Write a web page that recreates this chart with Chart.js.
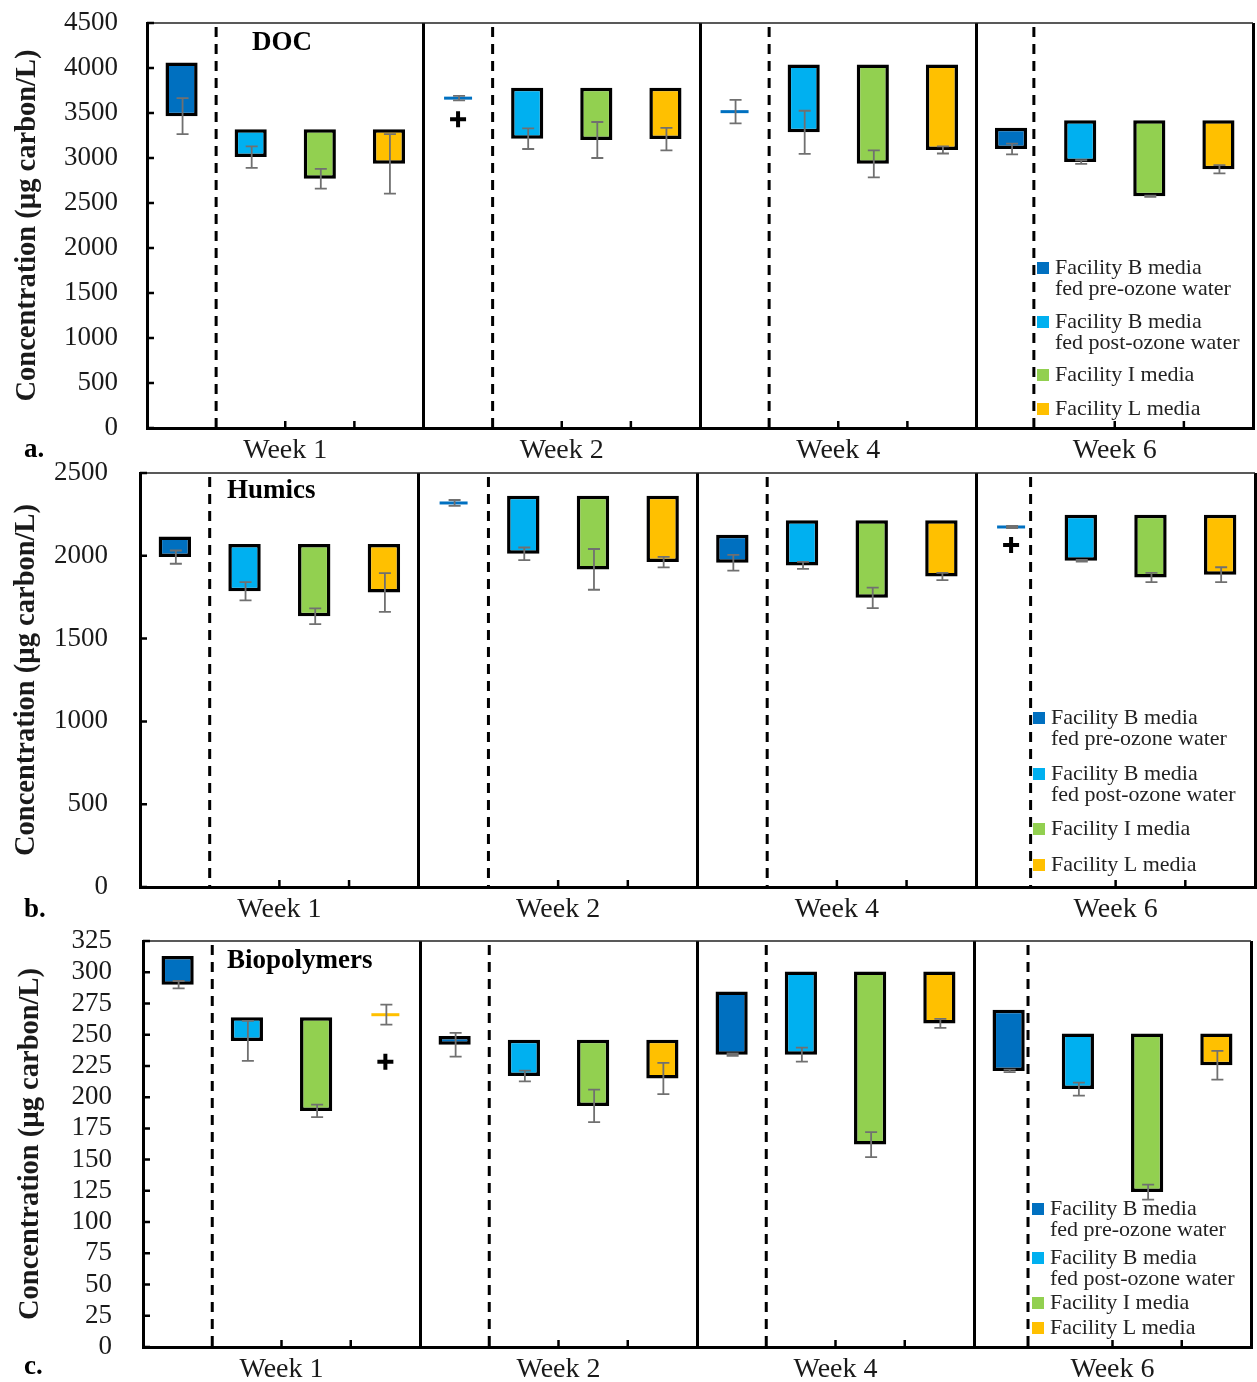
<!DOCTYPE html>
<html>
<head>
<meta charset="utf-8">
<script src="https://cdn.jsdelivr.net/npm/chart.js@4.4.1/dist/chart.umd.min.js"></script>
<style>
  html, body { margin: 0; padding: 0; background: #fff; }
  #wrap { position: relative; width: 1257px; height: 1382px; }
  #wrap canvas { position: absolute; left: 0; top: 0; }
</style>
</head>
<body>
<div id="wrap">
  <canvas id="docChart" width="1257" height="1382"></canvas>
  <canvas id="humicsChart" width="1257" height="1382"></canvas>
  <canvas id="bioChart" width="1257" height="1382"></canvas>
</div>
<script>
// ---- categories ----
const weeks = ['Week 1', 'Week 2', 'Week 4', 'Week 6'];
const mediaShort = ['B pre', 'B post', 'I', 'L'];
const mediaLabels = [
  ['Facility B media', 'fed pre-ozone water'],
  ['Facility B media', 'fed post-ozone water'],
  ['Facility I media'],
  ['Facility L media']
];
const mediaColors = ['#0070C0', '#00B0F0', '#92D050', '#FFC000'];

// ---- values (µg carbon/L) ----
// Slot order inside every week: B pre, B post, I, L.
// Influent = top of the floating bar, effluent = bottom (± error).
// A null influent means the effluent exceeded the influent: drawn as a single line.
const docInfluent = [4060, 3320, 3320, 3320,  null, 3780, 3780, 3780,  null, 4040, 4040, 4040,  3335, 3420, 3420, 3420];
const docEffluent = [3465, 3010, 2770, 2935,  3665, 3215, 3200, 3210,  3515, 3285, 2935, 3090,  3100, 2955, 2575, 2875];
const docError    = [ 200,  120,  110,  330,    25,  115,  200,  125,   130,  240,  150,   40,    60,   20,    8,   45];
const docPlus     = [4];

const humInfluent = [2117, 2071, 2071, 2071,  null, 2363, 2363, 2363,  2127, 2214, 2214, 2214,  null, 2248, 2248, 2248];
const humEffluent = [1992, 1786, 1635, 1778,  2319, 2012, 1918, 1962,  1958, 1942, 1746, 1875,  2174, 1970, 1869, 1886];
const humError    = [  40,   55,   48,  117,    18,   38,  123,   32,    48,   21,   62,   22,     6,    5,   28,   45];
const humPlus     = [12];

const bioInfluent = [313, 264, 264, null,  249, 246, 246, 246,  284.5, 300.5, 300.5, 300.5,  270, 251, 251, 251];
const bioEffluent = [290, 245, 189, 266,   242, 217, 193, 215,  234,   234,   162,   259,    221, 206.5, 124, 225.5];
const bioError    = [  3,  16,   5,   8,   9.5, 4.3,  13, 12.5,   1,   5.6,    10,   3.6,      1, 5.2,   6,  11.5];
const bioPlus     = [3];

// ---- shared styling ----
Chart.defaults.font.family = "'Liberation Serif', 'Times New Roman', serif";
Chart.defaults.color = '#1a1a1a';
const CANVAS_W = 1257, CANVAS_H = 1382, WEEK_AXIS_H = 30;
const slotLabels = weeks.flatMap(w => mediaShort.map(m => w + ' ' + m));

const panels = [
  { canvas: 'docChart', title: 'DOC', letter: 'a.',
    influent: docInfluent, effluent: docEffluent, error: docError, plus: docPlus,
    yMax: 4500, yStep: 500,
    area: { left: 147, right: 1253, top: 23, bottom: 428 },
    titleOffset: [105, 27], letterPos: [24, 457], dashAt: [0.5, 4.5, 8.5, 12.33],
    legendX: 1037, legendRows: [268, 322, 375, 409], plusDrop: 21,
    yTitlePad: 12, yTickPad: 29 },
  { canvas: 'humicsChart', title: 'Humics', letter: 'b.',
    influent: humInfluent, effluent: humEffluent, error: humError, plus: humPlus,
    yMax: 2500, yStep: 500,
    area: { left: 140, right: 1255, top: 473, bottom: 887 },
    titleOffset: [87, 25], letterPos: [24, 917], dashAt: [0.5, 4.5, 8.5, 12.28],
    legendX: 1033, legendRows: [718, 774, 829, 865], plusDrop: 18,
    yTitlePad: 11, yTickPad: 32 },
  { canvas: 'bioChart', title: 'Biopolymers', letter: 'c.',
    influent: bioInfluent, effluent: bioEffluent, error: bioError, plus: bioPlus,
    yMax: 325, yStep: 25,
    area: { left: 143, right: 1251, top: 941, bottom: 1347 },
    titleOffset: [84, 27], letterPos: [24, 1374], dashAt: [0.5, 4.5, 8.5, 12.28],
    legendX: 1032, legendRows: [1209, 1258, 1303, 1328], plusDrop: 47,
    yTitlePad: 15, yTickPad: 31 }
];

// Dashed media separators, error bars, inner ticks, titles and the in-plot legend
function panelDecor(p) {
  return {
    id: 'panelDecor',
    beforeDatasetsDraw(chart) {
      const { ctx, chartArea: a, scales: { x } } = chart;
      ctx.save();
      ctx.strokeStyle = '#000';
      ctx.lineWidth = 3;
      ctx.setLineDash([10, 7]);
      p.dashAt.forEach(v => {
        const px = x.getPixelForValue(v);
        ctx.beginPath();
        ctx.moveTo(px, a.top + 4);
        ctx.lineTo(px, a.bottom);
        ctx.stroke();
      });
      ctx.restore();
    },
    afterDatasetsDraw(chart) {
      const { ctx, chartArea: a, scales: { x, y } } = chart;
      ctx.save();

      // error bars around each effluent value
      ctx.strokeStyle = '#707070';
      ctx.lineWidth = 1.8;
      p.effluent.forEach((v, i) => {
        const e = p.error[i];
        if (!e) return;
        const cx = x.getPixelForValue(i) + 1;
        const y1 = y.getPixelForValue(v + e);
        const y2 = y.getPixelForValue(v - e);
        ctx.beginPath();
        ctx.moveTo(cx, y1); ctx.lineTo(cx, y2);
        ctx.moveTo(cx - 6, y1); ctx.lineTo(cx + 6, y1);
        ctx.moveTo(cx - 6, y2); ctx.lineTo(cx + 6, y2);
        ctx.stroke();
      });

      // "+" under the slots where concentration increased
      ctx.strokeStyle = '#000';
      ctx.lineWidth = 4;
      p.plus.forEach(i => {
        const cx = x.getPixelForValue(i);
        const cy = y.getPixelForValue(p.effluent[i]) + p.plusDrop;
        ctx.beginPath();
        ctx.moveTo(cx - 8, cy); ctx.lineTo(cx + 8, cy);
        ctx.moveTo(cx, cy - 8); ctx.lineTo(cx, cy + 8);
        ctx.stroke();
      });

      // thin top frame
      ctx.strokeStyle = '#222';
      ctx.lineWidth = 1.5;
      ctx.beginPath();
      ctx.moveTo(a.left, a.top);
      ctx.lineTo(a.right, a.top);
      ctx.stroke();

      // inward ticks: y values and slot boundaries
      ctx.strokeStyle = '#000';
      ctx.lineWidth = 2.5;
      ctx.beginPath();
      y.ticks.forEach(t => {
        const py = y.getPixelForValue(t.value);
        ctx.moveTo(a.left, py); ctx.lineTo(a.left + 7, py);
      });
      for (let g = 0; g < weeks.length; g++) {
        [1.5, 2.5].forEach(o => {
          const px = x.getPixelForValue(g * 4 + o);
          ctx.moveTo(px, a.bottom); ctx.lineTo(px, a.bottom - 7);
        });
      }
      ctx.stroke();

      // panel name and letter
      ctx.fillStyle = '#000';
      ctx.font = "bold 27px 'Liberation Serif'";
      ctx.textAlign = 'left';
      ctx.textBaseline = 'alphabetic';
      ctx.fillText(p.title, a.left + p.titleOffset[0], a.top + p.titleOffset[1]);
      ctx.fillText(p.letter, p.letterPos[0], p.letterPos[1]);

      // legend
      ctx.font = "22px 'Liberation Serif'";
      ctx.textBaseline = 'middle';
      chart.data.datasets.filter(d => d.type === 'bar').forEach((d, m) => {
        const ry = p.legendRows[m];
        ctx.fillStyle = d.backgroundColor;
        ctx.fillRect(p.legendX, ry - 6, 12, 12);
        ctx.fillStyle = '#222';
        mediaLabels[m].forEach((line, k) => ctx.fillText(line, p.legendX + 18, ry + k * 21));
      });
      ctx.restore();
    }
  };
}

function buildPanel(p) {
  const barSets = mediaColors.map((color, m) => ({
    type: 'bar',
    label: mediaLabels[m].join(' '),
    data: p.influent.map((top, i) => (i % 4 === m && top !== null) ? [p.effluent[i], top] : null),
    backgroundColor: color,
    borderColor: '#000',
    borderWidth: 3.5,
    borderSkipped: false,
    grouped: false,
    barPercentage: 0.465,
    categoryPercentage: 1,
    xAxisID: 'x',
    yAxisID: 'y',
    order: 2
  }));
  const increaseSet = {
    type: 'line',
    label: 'increase',
    data: p.influent.map((top, i) => top === null ? p.effluent[i] : null),
    showLine: false,
    pointStyle: 'line',
    pointRadius: 14,
    pointHoverRadius: 14,
    pointBorderWidth: 3,
    pointBorderColor: p.influent.map((_, i) => mediaColors[i % 4]),
    pointBackgroundColor: p.influent.map((_, i) => mediaColors[i % 4]),
    xAxisID: 'x',
    yAxisID: 'y',
    order: 1
  };

  const a = p.area;
  return new Chart(document.getElementById(p.canvas), {
    type: 'bar',
    data: { labels: slotLabels, datasets: [...barSets, increaseSet] },
    options: {
      responsive: false,
      maintainAspectRatio: false,
      animation: false,
      events: [],
      layout: {
        autoPadding: false,
        padding: {
          left: 0,
          right: CANVAS_W - a.right,
          top: a.top,
          bottom: CANVAS_H - a.bottom - WEEK_AXIS_H
        }
      },
      plugins: { legend: { display: false }, tooltip: { enabled: false } },
      scales: {
        x: {
          type: 'category',
          labels: slotLabels,
          offset: true,
          display: false
        },
        weeks: {
          type: 'category',
          labels: weeks,
          position: 'bottom',
          offset: true,
          grid: { offset: true, color: '#000', lineWidth: 3, drawTicks: false, drawOnChartArea: true },
          border: { display: true, color: '#000', width: 3 },
          ticks: { font: { size: 28 }, color: '#1a1a1a', padding: 6, maxRotation: 0, autoSkip: false },
          afterFit(s) { s.height = WEEK_AXIS_H; }
        },
        y: {
          min: 0,
          max: p.yMax,
          grid: {
            display: true, drawOnChartArea: false, drawTicks: true,
            tickLength: p.yTickPad, tickColor: 'rgba(0,0,0,0)'
          },
          border: { display: true, color: '#000', width: 3 },
          ticks: {
            stepSize: p.yStep,
            maxTicksLimit: 40,
            autoSkip: false,
            padding: 0,
            font: { size: 27 },
            color: '#1a1a1a',
            callback: v => String(v)
          },
          title: {
            display: true,
            text: 'Concentration (µg carbon/L)',
            font: { size: 28.5, weight: 'bold' },
            color: '#1a1a1a',
            padding: { top: p.yTitlePad - 1, bottom: 0 }
          },
          afterFit(s) { s.width = a.left; }
        }
      }
    },
    plugins: [panelDecor(p)]
  });
}

panels.forEach(buildPanel);
</script>
</body>
</html>
